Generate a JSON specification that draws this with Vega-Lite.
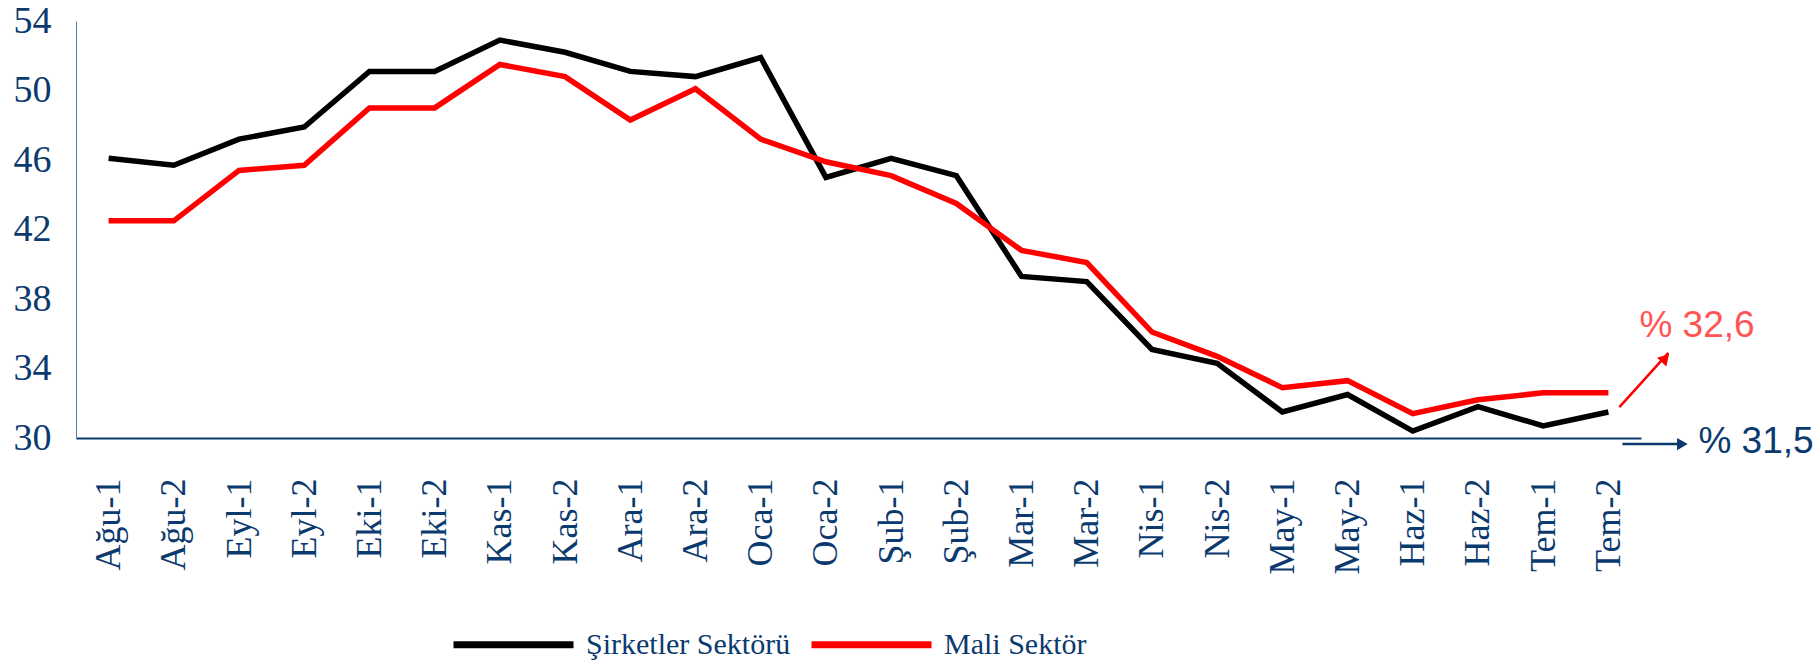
{
  "$schema": "https://vega.github.io/schema/vega-lite/v6.json",
  "width": 1565,
  "height": 417,
  "autosize": {"type": "none"},
  "padding": {"left": 76, "top": 21, "right": 177, "bottom": 227},
  "background": "white",
  "config": {
    "view": {"stroke": null},
    "axis": {"grid": false, "ticks": false, "labelColor": "#0b3a6e", "labelFont": "Liberation Serif", "domainColor": "#0b3a6e"},
    "legend": {"labelFont": "Liberation Serif", "labelFontSize": 30, "labelColor": "#0b3a6e", "labelLimit": 0}
  },
  "datasets": {
    "series": [
      {"period": "Ağu-1", "sektor": "Şirketler Sektörü", "oran": 46.1},
      {"period": "Ağu-2", "sektor": "Şirketler Sektörü", "oran": 45.7},
      {"period": "Eyl-1", "sektor": "Şirketler Sektörü", "oran": 47.2},
      {"period": "Eyl-2", "sektor": "Şirketler Sektörü", "oran": 47.9},
      {"period": "Eki-1", "sektor": "Şirketler Sektörü", "oran": 51.1},
      {"period": "Eki-2", "sektor": "Şirketler Sektörü", "oran": 51.1},
      {"period": "Kas-1", "sektor": "Şirketler Sektörü", "oran": 52.9},
      {"period": "Kas-2", "sektor": "Şirketler Sektörü", "oran": 52.2},
      {"period": "Ara-1", "sektor": "Şirketler Sektörü", "oran": 51.1},
      {"period": "Ara-2", "sektor": "Şirketler Sektörü", "oran": 50.8},
      {"period": "Oca-1", "sektor": "Şirketler Sektörü", "oran": 51.9},
      {"period": "Oca-2", "sektor": "Şirketler Sektörü", "oran": 45.0},
      {"period": "Şub-1", "sektor": "Şirketler Sektörü", "oran": 46.1},
      {"period": "Şub-2", "sektor": "Şirketler Sektörü", "oran": 45.1},
      {"period": "Mar-1", "sektor": "Şirketler Sektörü", "oran": 39.3},
      {"period": "Mar-2", "sektor": "Şirketler Sektörü", "oran": 39.0},
      {"period": "Nis-1", "sektor": "Şirketler Sektörü", "oran": 35.1},
      {"period": "Nis-2", "sektor": "Şirketler Sektörü", "oran": 34.3},
      {"period": "May-1", "sektor": "Şirketler Sektörü", "oran": 31.5},
      {"period": "May-2", "sektor": "Şirketler Sektörü", "oran": 32.5},
      {"period": "Haz-1", "sektor": "Şirketler Sektörü", "oran": 30.4},
      {"period": "Haz-2", "sektor": "Şirketler Sektörü", "oran": 31.8},
      {"period": "Tem-1", "sektor": "Şirketler Sektörü", "oran": 30.7},
      {"period": "Tem-2", "sektor": "Şirketler Sektörü", "oran": 31.5},
      {"period": "Ağu-1", "sektor": "Mali Sektör", "oran": 42.5},
      {"period": "Ağu-2", "sektor": "Mali Sektör", "oran": 42.5},
      {"period": "Eyl-1", "sektor": "Mali Sektör", "oran": 45.4},
      {"period": "Eyl-2", "sektor": "Mali Sektör", "oran": 45.7},
      {"period": "Eki-1", "sektor": "Mali Sektör", "oran": 49.0},
      {"period": "Eki-2", "sektor": "Mali Sektör", "oran": 49.0},
      {"period": "Kas-1", "sektor": "Mali Sektör", "oran": 51.5},
      {"period": "Kas-2", "sektor": "Mali Sektör", "oran": 50.8},
      {"period": "Ara-1", "sektor": "Mali Sektör", "oran": 48.3},
      {"period": "Ara-2", "sektor": "Mali Sektör", "oran": 50.1},
      {"period": "Oca-1", "sektor": "Mali Sektör", "oran": 47.2},
      {"period": "Oca-2", "sektor": "Mali Sektör", "oran": 45.9},
      {"period": "Şub-1", "sektor": "Mali Sektör", "oran": 45.1},
      {"period": "Şub-2", "sektor": "Mali Sektör", "oran": 43.5},
      {"period": "Mar-1", "sektor": "Mali Sektör", "oran": 40.8},
      {"period": "Mar-2", "sektor": "Mali Sektör", "oran": 40.1},
      {"period": "Nis-1", "sektor": "Mali Sektör", "oran": 36.1},
      {"period": "Nis-2", "sektor": "Mali Sektör", "oran": 34.7},
      {"period": "May-1", "sektor": "Mali Sektör", "oran": 32.9},
      {"period": "May-2", "sektor": "Mali Sektör", "oran": 33.3},
      {"period": "Haz-1", "sektor": "Mali Sektör", "oran": 31.4},
      {"period": "Haz-2", "sektor": "Mali Sektör", "oran": 32.2},
      {"period": "Tem-1", "sektor": "Mali Sektör", "oran": 32.6},
      {"period": "Tem-2", "sektor": "Mali Sektör", "oran": 32.6}
    ],
    "noteRed": [{"period": "Tem-2", "label": "% 32,6", "y": 36.45}],
    "noteBlue": [{"period": "Tem-2", "label": "% 31,5", "y": 29.77}],
    "redArrow": [{"period": "Tem-2", "y": 31.78, "y2": 34.9, "head": 34.6}],
    "blueArrow": [{"period": "Tem-2", "y": 29.65}]
  },
  "encoding": {
    "x": {
      "field": "period", "type": "ordinal",
      "sort": ["Ağu-1","Ağu-2","Eyl-1","Eyl-2","Eki-1","Eki-2","Kas-1","Kas-2","Ara-1","Ara-2","Oca-1","Oca-2","Şub-1","Şub-2","Mar-1","Mar-2","Nis-1","Nis-2","May-1","May-2","Haz-1","Haz-2","Tem-1","Tem-2"],
      "scale": {"type": "point", "padding": 0.5},
      "axis": {"title": null, "labelAngle": 270, "labelAlign": "right", "labelBaseline": "middle", "labelFontSize": 36, "labelPadding": 40, "domainWidth": 2}
    }
  },
  "layer": [
    {
      "data": {"name": "series"},
      "mark": {"type": "line", "strokeWidth": 5.5, "strokeJoin": "miter"},
      "encoding": {
        "y": {
          "field": "oran", "type": "quantitative",
          "scale": {"domain": [30, 54], "nice": false, "zero": false},
          "axis": {"title": null, "values": [30, 34, 38, 42, 46, 50, 54], "labelFontSize": 38, "labelPadding": 25, "labelFlush": false, "domainColor": "#5a7aa3", "domainWidth": 1}
        },
        "color": {
          "field": "sektor", "type": "nominal",
          "scale": {"domain": ["Şirketler Sektörü", "Mali Sektör"], "range": ["#000000", "#ff0000"]},
          "legend": {
            "title": null, "orient": "none", "direction": "horizontal", "columns": 2,
            "legendX": 374, "legendY": 560,
            "symbolType": "stroke", "symbolSize": 14400, "symbolStrokeWidth": 7,
            "labelFont": "Liberation Serif", "labelFontSize": 30, "labelColor": "#0b3a6e", "labelLimit": 0,
            "labelOffset": 9, "columnPadding": 6
          }
        }
      }
    },
    {
      "data": {"name": "noteRed"},
      "mark": {"type": "text", "font": "Liberation Sans", "fontSize": 37, "align": "left", "baseline": "middle", "color": "#ff5555", "dx": 31},
      "encoding": {
        "y": {"field": "y", "type": "quantitative"},
        "text": {"field": "label"}
      }
    },
    {
      "data": {"name": "noteBlue"},
      "mark": {"type": "text", "font": "Liberation Sans", "fontSize": 37, "align": "left", "baseline": "middle", "color": "#0b3a6e", "dx": 90},
      "encoding": {
        "y": {"field": "y", "type": "quantitative"},
        "text": {"field": "label"}
      }
    },
    {
      "data": {"name": "redArrow"},
      "mark": {"type": "rule", "color": "#ff0000", "strokeWidth": 2.5, "xOffset": 11, "x2Offset": 60},
      "encoding": {
        "y": {"field": "y", "type": "quantitative"},
        "x2": {"field": "period"},
        "y2": {"field": "y2"}
      }
    },
    {
      "data": {"name": "redArrow"},
      "mark": {"type": "point", "shape": "triangle-up", "filled": true, "color": "#ff0000", "size": 160, "angle": 43, "opacity": 1, "xOffset": 57},
      "encoding": {
        "y": {"field": "head", "type": "quantitative"}
      }
    },
    {
      "data": {"name": "blueArrow"},
      "mark": {"type": "rule", "color": "#0b3a6e", "strokeWidth": 2.5, "xOffset": 14, "x2Offset": 72},
      "encoding": {
        "y": {"field": "y", "type": "quantitative"},
        "x2": {"field": "period"}
      }
    },
    {
      "data": {"name": "blueArrow"},
      "mark": {"type": "point", "shape": "triangle-right", "filled": true, "color": "#0b3a6e", "size": 150, "opacity": 1, "xOffset": 74},
      "encoding": {
        "y": {"field": "y", "type": "quantitative"}
      }
    }
  ]
}
